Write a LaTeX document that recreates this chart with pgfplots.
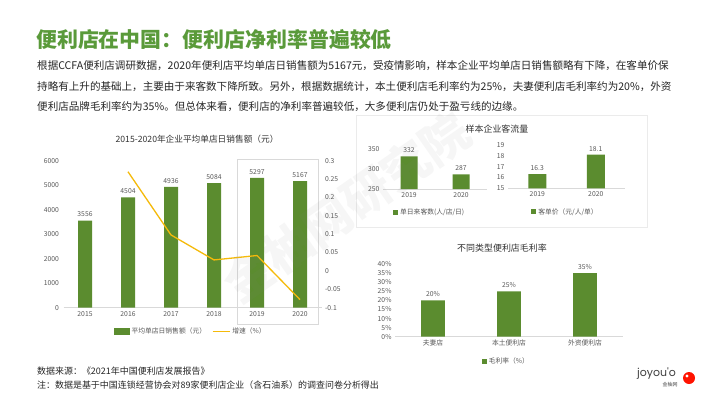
\documentclass[border=0pt]{standalone}
\usepackage{pgfplots}
\pgfplotsset{compat=1.18}
\usepackage{fontspec}
\setmainfont{Noto Sans CJK SC}
\newfontfamily\logofont{Poppins}
\definecolor{cjgreen}{HTML}{5B8C2F}
\definecolor{ttlgreen}{HTML}{5A9A3A}
\definecolor{lineyel}{HTML}{F5BA0A}
\definecolor{txtgray}{HTML}{595959}
\definecolor{axgray}{HTML}{D9D9D9}
\pgfplotsset{
  mystyle/.style={
    scale only axis, clip=false,
    axis x line*=bottom, axis y line*=left,
    y axis line style={draw=none},
    x axis line style={axgray, line width=0.7bp},
    major tick length=0pt,
    tick label style={font=\fontsize{6.8}{7}\selectfont, text=txtgray},
    /pgf/number format/assume math mode=true,
    /pgf/number format/1000 sep={},
    nodes near coords style={font=\fontsize{6.8}{7}\selectfont, text=txtgray, /pgf/number format/assume math mode=true, /pgf/number format/1000 sep={}},
    legend style={draw=none, fill=none, font=\fontsize{6.8}{7}\selectfont, text=txtgray, inner sep=0pt,
      /tikz/every even column/.append style={column sep=4bp}},
    legend cell align=left,
  },
  sqleg/.style={legend image code/.code={\fill[cjgreen] (0bp,-2.5bp) rectangle (5bp,2.5bp);}},
}
\begin{document}
\begin{tikzpicture}[x=1bp,y=1bp]
\path[use as bounding box, fill=white] (0,0) rectangle (710,399);
% Title and paragraph
\node[anchor=west, inner sep=0pt, text=ttlgreen, font=\fontsize{21}{22}\selectfont\bfseries] at (36,359) {便利店在中国：便利店净利率普遍较低};
\node[anchor=west, inner sep=0pt, text=black!85, font=\fontsize{10.6}{12}\selectfont] at (37,333) {根据CCFA便利店调研数据，2020年便利店平均单店日销售额为5167元，受疫情影响，样本企业平均单店日销售额略有下降，在客单价保};
\node[anchor=west, inner sep=0pt, text=black!85, font=\fontsize{10.6}{12}\selectfont] at (37,312) {持略有上升的基础上，主要由于来客数下降所致。另外，根据数据统计，本土便利店毛利率约为25\%，夫妻便利店毛利率约为20\%，外资};
\node[anchor=west, inner sep=0pt, text=black!85, font=\fontsize{10.6}{12}\selectfont] at (37,292) {便利店品牌毛利率约为35\%。但总体来看，便利店的净利率普遍较低，大多便利店仍处于盈亏线的边缘。};
% Footnotes
\node[anchor=west, inner sep=0pt, text=black!85, font=\fontsize{9}{10}\selectfont] at (37,28) {数据来源：《2021年中国便利店发展报告》};
\node[anchor=west, inner sep=0pt, text=black!85, font=\fontsize{9}{10}\selectfont] at (37,14) {注：数据是基于中国连锁经营协会对89家便利店企业（含石油系）的调查问卷分析得出};
% Logo
\node[anchor=west, inner sep=0pt, text=black!75, font=\fontsize{11}{12}\selectfont\logofont] at (637,25) {joyou\textquotesingle o};
\node[anchor=center, inner sep=0pt, text=black!70, font=\fontsize{5}{6}\selectfont] at (670,14) {金柚网};
\fill[red!85!orange] (689,21) circle (6);
\fill[white] (687,23) circle (1.6);
% Left chart decorations
\node[text=black!80, font=\fontsize{8.7}{10}\selectfont] at (197,260) {2015-2020年企业平均单店日销售额（元）};
\draw[axgray, line width=0.7bp] (237,240) rectangle (318,75);
\begin{axis}[mystyle, at={(63.5bp,91.3bp)}, anchor=south west, width=258bp, height=147bp,
  xmin=-0.5, xmax=5.5, ymin=0, ymax=6000, ytick={0,1000,...,6000},
  xtick={0,...,5}, xticklabels={2015,2016,2017,2018,2019,2020},
  ybar, bar width=14bp, nodes near coords,
  yticklabel style={xshift=-1bp}]
\addplot[fill=cjgreen, draw=none] coordinates {(0,3556)(1,4504)(2,4936)(3,5084)(4,5297)(5,5167)};
\end{axis}
\begin{axis}[mystyle, at={(63.5bp,91.3bp)}, anchor=south west, width=258bp, height=147bp,
  xmin=-0.5, xmax=5.5, ymin=-0.1, ymax=0.3,
  axis x line=none, axis y line*=right,
  ytick={-0.1,-0.05,0,0.05,0.1,0.15,0.2,0.25,0.3},
  yticklabels={-0.1,-0.05,0,0.05,0.1,0.15,0.2,0.25,0.3},
  legend style={at={(0.494,-0.163)}, anchor=center}, legend columns=2]
\addlegendimage{legend image code/.code={\fill[cjgreen] (0bp,-3bp) rectangle (15bp,3bp);}}
\addlegendentry{平均单店日销售额（元）}
\addplot[lineyel, line width=1.3bp] coordinates {(1,0.27)(2,0.098)(3,0.030)(4,0.042)(5,-0.078)};
\addlegendentry{增速（\%）}
\end{axis}
% Top-right box
\draw[black!8, line width=0.8bp] (356,284) rectangle (647,172);
\node[text=black!80, font=\fontsize{9}{10}\selectfont] at (497,270) {样本企业客流量};
\begin{axis}[mystyle, at={(383bp,210bp)}, anchor=south west, width=104bp, height=39.7bp,
  xmin=-0.5, xmax=1.5, ymin=250, ymax=350, ytick={250,300,350},
  xtick={0,1}, xticklabels={2019,2020},
  ybar, bar width=17bp, nodes near coords,
  legend style={at={(0.096,-0.58)}, anchor=west}]
\addplot[fill=cjgreen, draw=none, sqleg] coordinates {(0,332)(1,287)};
\addlegendentry{单日来客数(人/店/日)}
\end{axis}
\begin{axis}[mystyle, at={(508bp,210.7bp)}, anchor=south west, width=117bp, height=43.3bp,
  xmin=-0.5, xmax=1.5, ymin=15, ymax=19, ytick={15,16,17,18,19},
  xtick={0,1}, xticklabels={2019,2020},
  ybar, bar width=18bp, nodes near coords,
  legend style={at={(0.197,-0.547)}, anchor=west}]
\addplot[fill=cjgreen, draw=none, sqleg] coordinates {(0,16.3)(1,18.1)};
\addlegendentry{客单价（元/人/单）}
\end{axis}
% Bottom-right chart
\node[text=black!80, font=\fontsize{9}{10}\selectfont] at (502,151) {不同类型便利店毛利率};
\begin{axis}[mystyle, at={(395bp,62.3bp)}, anchor=south west, width=228bp, height=72.7bp,
  xmin=-0.5, xmax=2.5, ymin=0, ymax=40, ytick={0,5,...,40},
  yticklabels={0\%,5\%,10\%,15\%,20\%,25\%,30\%,35\%,40\%},
  xtick={0,1,2}, xticklabels={夫妻店,本土便利店,外资便利店},
  ybar, bar width=23.7bp,
  nodes near coords={\pgfmathprintnumber{\pgfplotspointmeta}\%},
  legend style={at={(0.38,-0.344)}, anchor=west}]
\addplot[fill=cjgreen, draw=none, sqleg] coordinates {(0,20)(1,25)(2,35)};
\addlegendentry{毛利率（\%）}
\end{axis}
% Watermark
\node[rotate=35, text=gray, opacity=0.07, font=\fontsize{48}{48}\selectfont\bfseries] at (347,192) {金柚网研究院};
\end{tikzpicture}
\end{document}
